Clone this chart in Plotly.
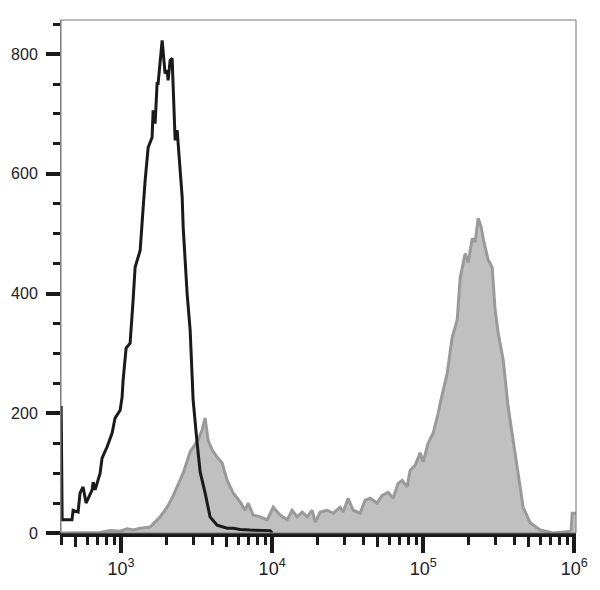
import plotly.graph_objects as go

# Isotype / unstained control (black outline)
ctrl_x = [401, 407, 413, 473, 481, 519, 535, 560, 586, 643, 653, 673, 726, 748, 808, 872, 912, 985,
          1015, 1031, 1079, 1147, 1201, 1238, 1337, 1378, 1400, 1443, 1510, 1604, 1629, 1679, 1731,
          1758, 1812, 1870, 1954, 2017, 2048, 2112, 2177, 2210, 2279, 2350, 2460, 2537, 2576, 2736,
          2865, 2953, 2999, 3187, 3337, 3598, 3882, 4322, 5036, 5519, 6140, 7150, 8330, 9700, 10000]
ctrl_y = [212, 22, 22, 22, 38, 35, 67, 77, 50, 72, 85, 72, 100, 125, 144, 167, 192, 205,
          227, 255, 309, 317, 389, 444, 472, 511, 544, 589, 644, 661, 706, 684, 751,
          751, 790, 823, 768, 773, 756, 790, 793, 756, 656, 673, 601, 561, 511, 400,
          339, 239, 222, 150, 102, 67, 27, 13, 8, 8, 6, 5, 5, 4, 0]

# Stained sample (grey filled)
stain_x = [401, 726, 845, 985, 1096, 1201, 1337, 1556, 1812, 1897, 2017, 2210, 2384, 2576, 2865,
           2999, 3236, 3436, 3598, 3767, 4006, 4322, 4669, 5036, 5519, 6140, 6626, 6937, 7486,
           8330, 9271, 10160, 11300, 12570, 13560, 14650, 15810, 17060, 18410, 19280, 20810,
           23130, 25350, 28190, 29520, 31860, 34380, 38270, 41290, 44560, 49550, 53470, 58620,
           63260, 68260, 72570, 78320, 82010, 88510, 95520, 100000, 107900, 116500, 125700,
           129700, 144300, 155700, 168000, 175900, 189800, 198700, 211200, 221000, 231400,
           242200, 249700, 269400, 286300, 299700, 313900, 338800, 365600, 394500, 425700,
           459400, 511200, 595700, 726500, 898900, 955000, 970000, 1030000]
stain_y = [0, 1, 4, 3, 7, 5, 8, 10, 27, 33, 43, 62, 80, 100, 136,
           143, 155, 172, 192, 155, 139, 127, 117, 88, 67, 52, 38, 50, 30,
           27, 22, 43, 30, 22, 38, 27, 35, 27, 38, 18, 35,
           38, 33, 43, 35, 58, 38, 33, 55, 58, 50, 63, 68,
           58, 83, 88, 77, 105, 113, 134, 119, 150, 167, 200,
           217, 267, 327, 356, 427, 467, 452, 492, 486, 526,
           511, 492, 456, 444, 372, 334, 289, 210, 155, 100,
           43, 17, 5, 0, 2, 5, 33, 33]

x_major = [1e3, 1e4, 1e5, 1e6]
x_major_text = ["10<sup>3</sup>", "10<sup>4</sup>", "10<sup>5</sup>", "10<sup>6</sup>"]
x_mid = [500, 5000, 50000, 500000]
x_minor = [m * 10 ** e for e in (2, 3, 4, 5) for m in (2, 3, 4, 6, 7, 8, 9) if 400 <= m * 10 ** e <= 1e6]
y_ticks = [0, 200, 400, 600, 800]

x_range = [2.602, 6.012]
y_range = [0, 857]

fig = go.Figure()
fig.add_trace(go.Scatter(x=stain_x, y=stain_y, mode="lines", fill="tozeroy",
                         fillcolor="#c0c0c0", line=dict(color="#9a9a9a", width=3),
                         showlegend=False, hoverinfo="skip"))
fig.add_trace(go.Scatter(x=ctrl_x, y=ctrl_y, mode="lines",
                         line=dict(color="#1a1a1a", width=3),
                         showlegend=False, hoverinfo="skip"))

font = dict(family="Liberation Sans, Arial, sans-serif", size=17, color="#222222")

fig.update_layout(
    width=592, height=582,
    margin=dict(l=53, r=24, t=12, b=57),
    paper_bgcolor="white", plot_bgcolor="white",
    font=font,
    xaxis=dict(type="log", range=x_range, showgrid=False, zeroline=False,
               showline=True, linecolor="#1a1a1a", linewidth=4, automargin=False,
               ticks="outside", tickvals=x_major, ticktext=x_major_text,
               ticklen=16, tickwidth=4, tickcolor="#1a1a1a",
               tickfont=dict(size=18, color="#222222"),
               minor=dict(tickvals=x_minor, ticks="outside", ticklen=8,
                          tickwidth=3, tickcolor="#1a1a1a")),
    xaxis2=dict(type="log", range=x_range, overlaying="x", anchor="y", side="bottom",
                showgrid=False, zeroline=False, showline=False, automargin=False,
                ticks="outside", tickvals=x_mid, ticklen=13, tickwidth=3,
                tickcolor="#1a1a1a", showticklabels=False),
    yaxis=dict(range=y_range, showgrid=False, zeroline=False, automargin=False,
               showline=True, linecolor="#888888", linewidth=1,
               ticks="outside", tickvals=y_ticks, ticklen=14, tickwidth=4,
               tickcolor="#1a1a1a", tickfont=dict(size=16, color="#222222"),
               ticklabelstandoff=5,
               minor=dict(dtick=50, ticks="outside", ticklen=7, tickwidth=3,
                          tickcolor="#1a1a1a")),
    shapes=[dict(type="rect", xref="paper", yref="paper", x0=0, x1=1, y0=0, y1=1,
                 line=dict(color="#777777", width=1), fillcolor="rgba(0,0,0,0)",
                 layer="above")],
)
# dummy trace to activate xaxis2
fig.add_trace(go.Scatter(x=[1e3], y=[None], xaxis="x2", yaxis="y",
                         showlegend=False, hoverinfo="skip"))

fig.write_html("out.html")
